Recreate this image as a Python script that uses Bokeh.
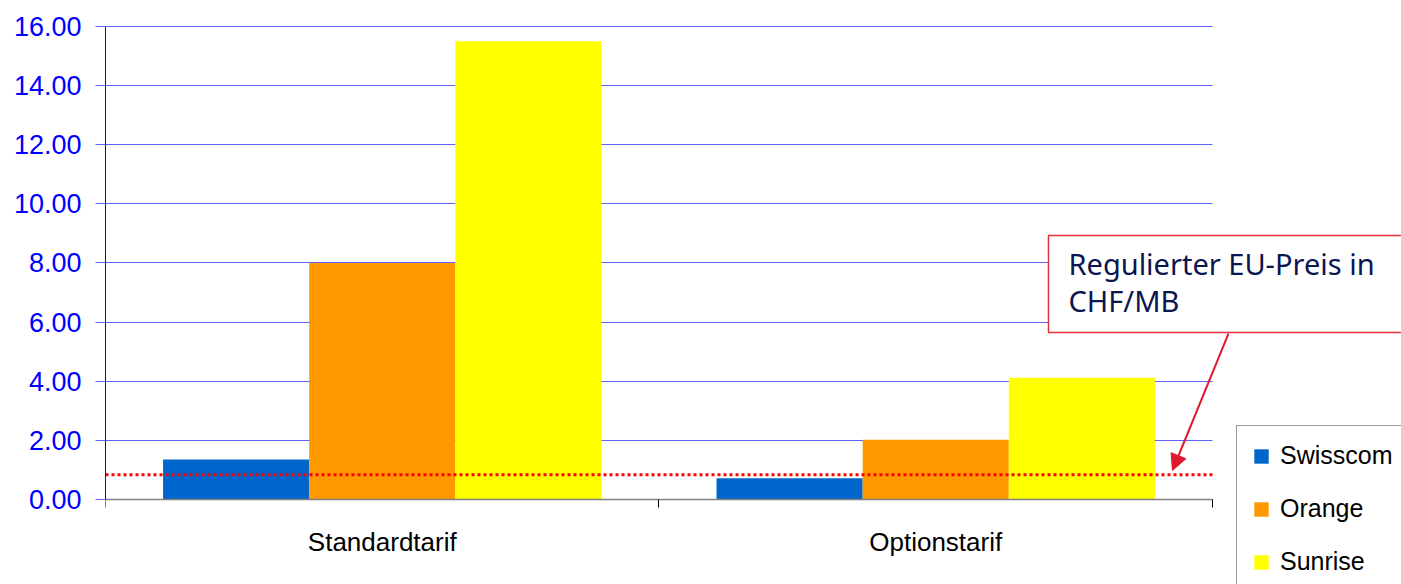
from bokeh.plotting import figure
from bokeh.models import (ColumnDataSource, FixedTicker, Label, Arrow, NormalHead,
                          Legend, LegendItem, Range1d, PrintfTickFormatter, Grid)
from bokeh.transform import dodge
from bokeh.embed import file_html
from bokeh.resources import INLINE

# ---- data ----
categories = ["Standardtarif", "Optionstarif"]
companies = ["Swisscom", "Orange", "Sunrise"]
swisscom = [1.35, 0.72]
orange = [8.0, 2.02]
sunrise = [15.5, 4.12]
eu_price = 0.84
y_ticks = [0, 2, 4, 6, 8, 10, 12, 14, 16]
colors = ["#0066cc", "#ff9900", "#ffff00"]

n_cat = len(categories)
xc = [i + 0.5 for i in range(n_cat)]
source = ColumnDataSource(dict(x=xc, Swisscom=swisscom, Orange=orange, Sunrise=sunrise))

# frame spans the whole canvas right of the y axis; the category axis sits at y=0
p = figure(width=1401, height=584, output_backend="svg", toolbar_location=None,
           x_range=Range1d(0, 2.3415), y_range=Range1d(-2.8753, 16.8795),
           min_border_left=105, min_border_right=0, min_border_top=0, min_border_bottom=0)
p.outline_line_color = None
p.background_fill_color = "white"
p.border_fill_color = "white"

grid_color = "#6060ff"
if "cross_bounds" in Grid.properties():
    p.ygrid.ticker = FixedTicker(ticks=y_ticks)
    p.ygrid.bounds = (0, 16)
    p.ygrid.cross_bounds = (0, n_cat)
    p.ygrid.grid_line_color = grid_color
else:
    p.ygrid.visible = False
    p.segment(x0=0, x1=n_cat, y0=y_ticks, y1=y_ticks, line_color=grid_color,
              line_width=1, level="underlay")
p.xgrid.visible = False

bw = 0.264
offsets = [-bw, 0.0, bw]
renderers = []
for comp, col, off in zip(companies, colors, offsets):
    r = p.vbar(x=dodge("x", off), top=comp, width=bw, source=source,
               fill_color=col, line_color=None)
    renderers.append(r)

# y axis
p.yaxis.ticker = FixedTicker(ticks=y_ticks)
p.yaxis.bounds = (0, 16)
p.yaxis.formatter = PrintfTickFormatter(format="%.2f")
p.yaxis.axis_line_color = "#0000ff"
p.yaxis.major_tick_line_color = grid_color
p.yaxis.major_tick_out = 10
p.yaxis.major_tick_in = 0
p.yaxis.minor_tick_line_color = None
p.yaxis.major_label_text_color = "#0000ff"
p.yaxis.major_label_text_font = "Liberation Sans"
p.yaxis.major_label_text_font_size = "27px"
p.yaxis.major_label_standoff = 14

# category axis at y = 0
p.xaxis.fixed_location = 0
p.xaxis.bounds = (0, n_cat)
p.xaxis.ticker = FixedTicker(ticks=xc, minor_ticks=list(range(n_cat + 1)))
p.xaxis.major_label_overrides = {x: c for x, c in zip(xc, categories)}
p.xaxis.axis_line_color = "#808080"
p.xaxis.axis_line_width = 1.5
p.xaxis.major_tick_line_color = None
p.xaxis.major_tick_out = 0
p.xaxis.major_tick_in = 0
p.xaxis.minor_tick_line_color = "#000000"
p.xaxis.minor_tick_out = 8
p.xaxis.minor_tick_in = 0
p.xaxis.major_label_text_color = "#000000"
p.xaxis.major_label_text_font = "Liberation Sans"
p.xaxis.major_label_text_font_size = "26px"
p.xaxis.major_label_standoff = 20

# EU price reference line
p.segment(x0=0, x1=n_cat, y0=eu_price, y1=eu_price, line_color="#ff0000",
          line_width=3, line_dash="3 3")

# annotation box
lab = Label(x=1.7037, y=8.930, text="Regulierter EU-Preis in\nCHF/MB",
            text_baseline="top", text_align="left",
            text_font="Noto Sans", text_font_size="29px", text_color="#0a1650",
            text_line_height=0.95,
            border_line_color="#e0303c", border_line_width=1.5,
            background_fill_color="white",
            padding=dict(left=20, right=60, top=8, bottom=13))
p.add_layout(lab)

red = "#e0182d"
p.add_layout(Arrow(end=NormalHead(size=16, fill_color=red, line_color=red),
                   x_start=2.0289, y_start=5.615, x_end=1.9277, y_end=0.981,
                   line_color=red, line_width=2))

legend = Legend(items=[LegendItem(label=c, renderers=[r]) for c, r in zip(companies, renderers)],
                location=(1131, -8), orientation="vertical",
                border_line_color="#333333", border_line_width=1,
                background_fill_color="white", background_fill_alpha=1,
                label_text_font="Liberation Sans", label_text_font_size="25px",
                label_text_color="#000000",
                glyph_width=18, glyph_height=18, label_height=28, label_standoff=10,
                spacing=24, padding=15, margin=0)
p.add_layout(legend, "center")

open("out.html", "w").write(file_html(p, INLINE))
